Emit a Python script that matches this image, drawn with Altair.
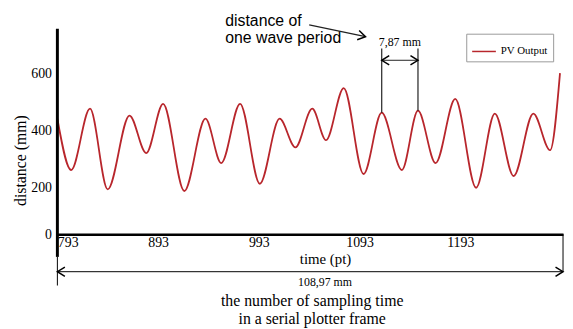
import altair as alt
import pandas as pd

# ---- data ----
time_pt = [793, 806.7, 825.4, 843, 864.6, 881.2, 898, 919, 940, 955.7, 974.4, 994,
           1013.6, 1029.3, 1046, 1059.7, 1077.3, 1097, 1115, 1135, 1151, 1168.5,
           1188, 1208.7, 1227.3, 1246, 1265.5, 1282.2, 1292]
distance_mm = [441, 262, 476, 193, 452, 321, 493, 186, 441, 286, 493, 214,
               441, 341, 476, 366, 548, 248, 462, 262, 469, 286,
               510, 200, 459, 241, 459, 331, 600]
series_name = "PV Output"

x_ticks = [793, 893, 993, 1093, 1193]
y_ticks = [0, 200, 400, 600]
x_domain = [793, 1295]

period_x = [1115, 1151]          # two successive peaks
period_peak = [462, 469]
period_top = 686
period_arrow_y = 645
period_label = "7,87 mm"
period_label_y = 707

frame_label = "108,97 mm"
bottom_lines = ["the number of sampling time", "in a serial plotter frame"]
note_lines = ["distance of", "one wave period"]

SERIF = "'Liberation Serif', 'Times New Roman', Times, serif"
SANS = "'Liberation Sans', Arial, Helvetica, sans-serif"
RED = "#b8262c"

df = pd.DataFrame({"t": time_pt, "d": distance_mm, "series": [series_name] * len(time_pt)})
pdf = pd.DataFrame({"px": period_x, "peak": period_peak})

xs = alt.Scale(domain=x_domain, nice=False, zero=False)
ys = alt.Scale(domain=[0, 200, 755], range=[208, 161, 0], nice=False, zero=False)

LEFT_CHEV = "M 1.6 -1 L 0 0 L 1.6 1"
RIGHT_CHEV = "M -1.6 -1 L 0 0 L -1.6 1"

line = alt.Chart(df).mark_line(interpolate="monotone", strokeWidth=1.8).encode(
    x=alt.X("t:Q", scale=xs,
            axis=alt.Axis(values=x_ticks, format="d", title="time (pt)", titleX=271, titleY=25,
                          titleBaseline="middle", titleFont=SERIF, titleFontSize=15,
                          titleFontWeight="normal", titleColor="black",
                          labelFont=SERIF, labelFontSize=14, labelColor="black",
                          labelPadding=1, ticks=False, tickSize=0, labelFlush=True,
                          domainColor="black", domainWidth=2.5, grid=False)),
    y=alt.Y("d:Q", scale=ys,
            axis=alt.Axis(values=y_ticks, format="d", title="distance (mm)", titleX=-37, titleY=133,
                          titleAngle=270, titleAlign="center", titleBaseline="middle",
                          titleFont=SERIF, titleFontSize=16, titleFontWeight="normal",
                          titleColor="black", labelFont=SERIF, labelFontSize=14,
                          labelColor="black", labelPadding=6, ticks=False, tickSize=0,
                          domain=False, grid=False)),
    color=alt.Color("series:N", scale=alt.Scale(range=[RED]),
                    legend=alt.Legend(title=None, orient="none", legendX=414, legendY=5,
                                      symbolType="stroke", symbolSize=576,
                                      symbolStrokeWidth=1.5, labelFont=SERIF,
                                      labelFontSize=11, labelColor="black",
                                      strokeColor="#999999", fillColor="white",
                                      padding=5, labelOffset=4)),
)

base = alt.Chart(pd.DataFrame({"k": [0]}))

yaxis_rule = base.mark_rule(color="black", strokeWidth=3).encode(
    x=alt.datum(793), y=alt.value(0), y2=alt.value(231))

dim_h = base.mark_rule(color="black", strokeWidth=1).encode(
    x=alt.datum(x_domain[0]), x2=alt.datum(x_domain[1]), y=alt.value(246))
dim_l = base.mark_rule(color="black", strokeWidth=1).encode(
    x=alt.datum(x_domain[0]), y=alt.value(231), y2=alt.value(260))
dim_r = base.mark_rule(color="black", strokeWidth=1).encode(
    x=alt.datum(x_domain[1]), y=alt.value(208), y2=alt.value(246))
dim_lc = base.mark_point(shape=LEFT_CHEV, size=90, filled=False, color="black",
                         strokeWidth=1.5, opacity=1).encode(
    x=alt.datum(x_domain[0]), y=alt.value(246))
dim_rc = base.mark_point(shape=RIGHT_CHEV, size=90, filled=False, color="black",
                         strokeWidth=1.5, opacity=1).encode(
    x=alt.datum(x_domain[1]), y=alt.value(246))

frame_txt = base.mark_text(text=frame_label, font=SERIF, fontSize=12, color="black",
                           baseline="middle").encode(x=alt.value(271), y=alt.value(256))
bot1 = base.mark_text(text=bottom_lines[0], font=SERIF, fontSize=16, color="black",
                      baseline="middle").encode(x=alt.value(258), y=alt.value(276))
bot2 = base.mark_text(text=bottom_lines[1], font=SERIF, fontSize=16, color="black",
                      baseline="middle").encode(x=alt.value(258), y=alt.value(294))

per_rules = alt.Chart(pdf).mark_rule(color="#222222", strokeWidth=1.2).encode(
    x="px:Q", y="peak:Q", y2=alt.datum(period_top))
per_h = base.mark_rule(color="#222222", strokeWidth=1).encode(
    x=alt.datum(period_x[0]), x2=alt.datum(period_x[1]), y=alt.datum(period_arrow_y))
per_lc = base.mark_point(shape=LEFT_CHEV, size=90, filled=False, color="black",
                         strokeWidth=1.5, opacity=1).encode(
    x=alt.datum(period_x[0]), y=alt.datum(period_arrow_y))
per_rc = base.mark_point(shape=RIGHT_CHEV, size=90, filled=False, color="black",
                         strokeWidth=1.5, opacity=1).encode(
    x=alt.datum(period_x[1]), y=alt.datum(period_arrow_y))
per_txt = base.mark_text(text=period_label, font=SERIF, fontSize=12, color="black",
                         baseline="middle").encode(
    x=alt.datum((period_x[0] + period_x[1]) / 2), y=alt.datum(period_label_y))

note1 = base.mark_text(text=note_lines[0], font=SANS, fontSize=16, color="black",
                       align="left", baseline="middle").encode(x=alt.value(170), y=alt.value(-8))
note2 = base.mark_text(text=note_lines[1], font=SANS, fontSize=16, color="black",
                       align="left", baseline="middle").encode(x=alt.value(170), y=alt.value(9))
note_arrow = base.mark_rule(color="#222222", strokeWidth=1.2).encode(
    x=alt.value(255), y=alt.value(-4), x2=alt.value(312), y2=alt.value(8))
note_head = base.mark_point(shape=RIGHT_CHEV, size=90, filled=False, color="black",
                            strokeWidth=1.5, opacity=1, angle=12).encode(
    x=alt.value(312), y=alt.value(8))

chart = alt.layer(
    line, yaxis_rule, dim_h, dim_l, dim_r, dim_lc, dim_rc, frame_txt, bot1, bot2,
    per_rules, per_h, per_lc, per_rc, per_txt, note1, note2, note_arrow, note_head,
).properties(
    width=512, height=208,
    autosize=alt.AutoSizeParams(type="none"),
    padding={"left": 50, "top": 19, "right": 2, "bottom": 94},
    background="white",
).configure_view(strokeWidth=0)

chart.save("out.html", embed_options={"renderer": "svg", "actions": False})
